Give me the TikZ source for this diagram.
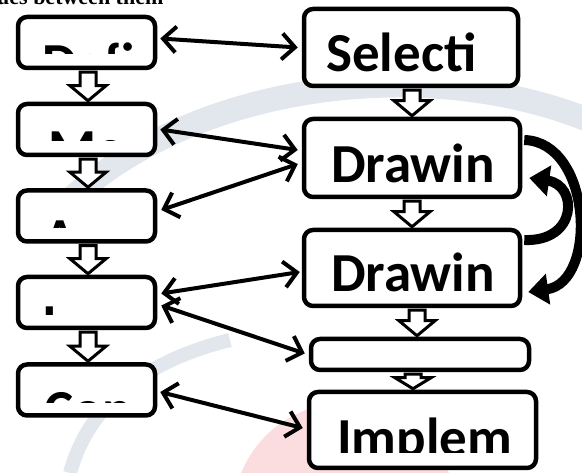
\documentclass[tikz,border=0pt]{standalone}
\usepackage{fontspec}
\setmainfont{Carlito}
\newfontfamily\headserif{Liberation Serif}
\usetikzlibrary{arrows.meta,calc}
\definecolor{wmgray}{RGB}{226,231,238}
\definecolor{wmpink}{RGB}{251,221,224}
% #1 upper node, #2 lower node, #3 x position, #4 head length
\newcommand\blockdown[4]{%
  \path[blk] let \p1=(#1.south), \p2=(#2.north) in
    (#3pt-8pt,\y1-2pt) -- (#3pt-8pt,\y2+#4pt) -- (#3pt-18pt,\y2+#4pt) -- (#3pt,\y2+1pt)
    -- (#3pt+18pt,\y2+#4pt) -- (#3pt+8pt,\y2+#4pt) -- (#3pt+8pt,\y1-2pt) -- cycle;}
\begin{document}
\begin{tikzpicture}[x=1pt,y=-1pt,
  box/.style={draw, line width=4.5pt, rounded corners=9pt, fill=white, inner sep=0pt},
  link/.style={line width=4pt, line cap=round,
    {Straight Barb[length=13pt,width=26pt]}-{Straight Barb[length=13pt,width=26pt]}},
  lbl/.style={font=\bfseries\fontsize{55}{60}\selectfont, inner sep=0pt, anchor=base west},
  blk/.style={draw, line width=3pt, fill=white, line join=miter},
  loop/.style={line width=10pt, -{Triangle[length=20pt,width=30pt]}}
]
\useasboundingbox (0,0) rectangle (582,473);
\clip (0,0) rectangle (582,473);

% faint background watermark
\fill[wmpink] (345,515) circle[radius=112];
\draw[wmgray, line width=24pt] (40,230) .. controls (170,80) and (430,50) .. (600,125);
\draw[wmgray, line width=14pt] (70,473) .. controls (90,400) and (150,360) .. (230,340);

% clipped heading line at the very top
\node[font=\headserif\bfseries\fontsize{22}{24}\selectfont, anchor=base west, inner sep=0pt]
  (head) at (-3,5) {ues between them};

% left column
\node[box, minimum width=137pt, minimum height=51pt] (defi) at (86.5,42.5) {};
\node[box, minimum width=137pt, minimum height=51pt] (me)   at (86.5,129.5) {};
\node[box, minimum width=137pt, minimum height=51pt] (an)   at (86.5,216) {};
\node[box, minimum width=137pt, minimum height=51pt] (im)   at (86.5,302.5) {};
\node[box, minimum width=137pt, minimum height=51pt] (con)  at (86.5,390) {};

% right column
\node[box, minimum width=214pt, minimum height=77pt] (sel) at (411,47.5) {};
\node[box, minimum width=216pt, minimum height=78pt] (dA)  at (412,158) {};
\node[box, minimum width=216pt, minimum height=76pt] (dB)  at (412,268) {};
\node[box, minimum width=218pt, minimum height=31pt] (thin) at (420,354.5) {};
\node[box, minimum width=227pt, minimum height=76pt] (imp) at (422.5,430) {};

% texts (clipped as in the picture)
\begin{scope}\clip (defi.north west) rectangle ($(defi.north east)+(0,39)$);
  \node[lbl] (tdefi) at (42,82) {Defi};\end{scope}
\begin{scope}\clip (me.north west) rectangle ($(me.north east)+(0,39)$);
  \node[lbl] (tme) at (48,168) {Me};\end{scope}
\begin{scope}\clip (an.north west) rectangle ($(an.north east)+(0,39)$);
  \node[lbl] (tan) at (43,257) {A};\end{scope}
\begin{scope}\clip (im.north west) rectangle ($(im.north east)+(0,40)$);
  \node[lbl] (tim) at (42,343) {I};\end{scope}
\begin{scope}\clip (con.north west) rectangle ($(con.north east)+(0,40)$);
  \node[lbl] (tcon) at (44,429) {Con};\end{scope}
\node[lbl] (tsel) at (326,72) {Selecti};
\node[lbl] (tdA) at (331,183) {Drawin};
\node[lbl] (tdB) at (331,292) {Drawin};
\begin{scope}\clip (imp.north west) rectangle ($(imp.north east)+(0,63)$);
  \node[lbl] (timp) at (337,457) {Implem};\end{scope}

% hollow block arrows
\blockdown{defi}{me}{88}{16}
\blockdown{me}{an}{88}{16}
\blockdown{an}{im}{88}{16}
\blockdown{im}{con}{88}{16}
\blockdown{sel}{dA}{412}{16}
\blockdown{dA}{dB}{412}{16}
\blockdown{dB}{thin}{417}{16}
\blockdown{thin}{imp}{413}{12}

% two-headed links
\draw[link] ($(defi.east)+(3,-4)$) -- ($(sel.west)+(-4,0)$);
\draw[link] ($(me.east)+(3,0)$) -- ($(dA.west)+(-4,-8)$);
\draw[link] ($(an.east)+(4,-6)$) -- ($(dA.west)+(-4,6)$);
\draw[link] ($(im.east)+(4,-9)$) -- ($(dB.west)+(-2,4)$);
\draw[link] ($(im.east)+(4,3)$) -- ($(thin.west)+(-4,-1)$);
\draw[link] ($(con.east)+(3,2)$) -- ($(imp.west)+(-4,-2)$);

% curved feedback arrows
\draw[loop] ($(dA.east)+(2,-18)$) .. controls (592,142) and (598,282) .. ($(dB.east)+(6,24)$);
\draw[loop] ($(dB.east)+(2,-28)$) .. controls (578,242) and (578,185) .. ($(dA.east)+(7,20)$);
\end{tikzpicture}
\end{document}
